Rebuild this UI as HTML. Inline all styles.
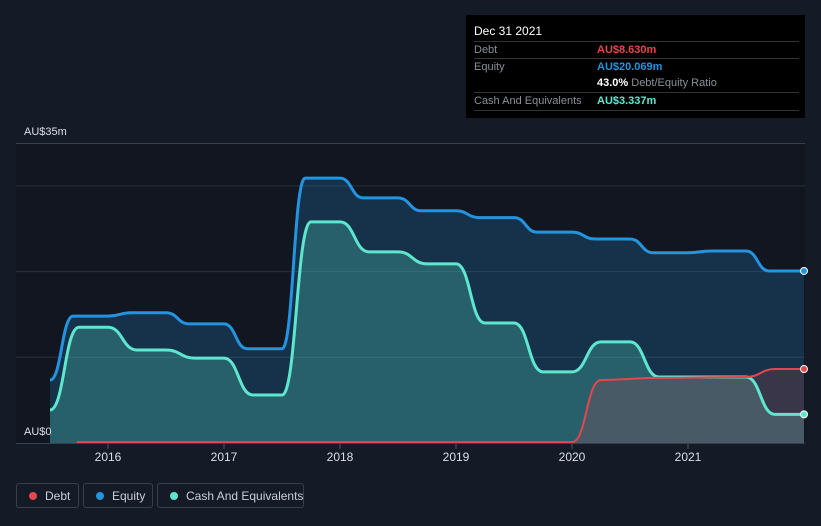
<!DOCTYPE html>
<html><head><meta charset="utf-8"><style>
body{margin:0;background:#151b26;width:821px;height:526px;overflow:hidden;font-family:"Liberation Sans",sans-serif}
svg{position:absolute;left:0;top:0}
.tip{position:absolute;left:466px;top:15px;width:339px;height:103px;background:#000;color:#fff;font-size:11px}
.row{position:absolute;left:8px;width:325px;border-top:1px solid #333;height:17px}
.lbl{position:absolute;left:0;top:2px;color:#8a8f98}
.val{position:absolute;left:123px;top:2px;font-weight:bold;white-space:nowrap}
.leg{position:absolute;top:483px;height:25px;border:1px solid #3a404a;border-radius:3px;color:#ccd;font-size:12px;box-sizing:border-box;white-space:nowrap}
.leg i{position:absolute;left:12px;top:8px;width:8px;height:8px;border-radius:50%}
.leg span{position:absolute;left:28px;top:5px}
</style></head><body>
<svg width="821" height="526">
<rect x="16" y="143" width="789" height="300" fill="#111620"/>
<g id="grid"></g><g id="areas"></g><g id="lines"></g><g id="axis"></g>
</svg>
<div class="tip">
<div style="position:absolute;left:8px;top:9px;font-size:12px">Dec 31 2021</div>
<div class="row" style="top:26px"><span class="lbl">Debt</span><span class="val" style="color:#e5474d">AU$8.630m</span></div>
<div class="row" style="top:43px"><span class="lbl">Equity</span><span class="val" style="color:#2394df">AU$20.069m</span></div>
<div class="row" style="top:60px;border-top:none"><span class="val" style="color:#fff">43.0% <span style="color:#8a8f98;font-weight:normal">Debt/Equity Ratio</span></span></div>
<div class="row" style="top:77px;border-bottom:1px solid #333"><span class="lbl">Cash And Equivalents</span><span class="val" style="color:#5ee6cf">AU$3.337m</span></div>
</div>
<div class="leg" style="left:16px;width:63px"><i style="background:#e5474d"></i><span>Debt</span></div>
<div class="leg" style="left:83px;width:70px"><i style="background:#2394df"></i><span>Equity</span></div>
<div class="leg" style="left:157px;width:147px"><i style="background:#5ee6cf"></i><span>Cash And Equivalents</span></div>
<script>
const eqT=[2015.5,2015.7,2016.0,2016.2,2016.5,2016.7,2017.0,2017.2,2017.5,2017.7,2018.0,2018.2,2018.5,2018.7,2019.0,2019.2,2019.5,2019.7,2020.0,2020.2,2020.5,2020.7,2021.0,2021.2,2021.5,2021.7,2022.0];
const eqV=[7.35,14.8,14.8,15.2,15.2,13.9,13.9,11.0,11.0,30.9,30.9,28.6,28.6,27.1,27.1,26.3,26.3,24.6,24.6,23.8,23.8,22.2,22.2,22.4,22.4,20.07,20.07];
const caT=[2015.5,2015.75,2016.0,2016.25,2016.5,2016.75,2017.0,2017.25,2017.5,2017.75,2018.0,2018.25,2018.5,2018.75,2019.0,2019.25,2019.5,2019.75,2020.0,2020.25,2020.5,2020.75,2021.0,2021.5,2021.75,2022.0];
const caV=[3.85,13.5,13.5,10.85,10.85,9.9,9.9,5.6,5.6,25.8,25.8,22.3,22.3,20.9,20.9,14.0,14.0,8.3,8.3,11.8,11.8,7.7,7.7,7.7,3.34,3.34];
const deT=[2015.73,2020.0,2020.25,2020.75,2021.5,2021.75,2022.0];
const deV=[0.1,0.1,7.35,7.6,7.7,8.63,8.63];
const yTicks=[10,20,30];
const xTicks=[2016,2017,2018,2019,2020,2021];
const X=t=>108+(t-2016)*116, Y=v=>443-v*300/35;
const NS="http://www.w3.org/2000/svg";
function mk(tag,attrs,parent){const e=document.createElementNS(NS,tag);for(const k in attrs)e.setAttribute(k,attrs[k]);document.getElementById(parent).appendChild(e);return e;}
function path(T,V){let d=`M${X(T[0])},${Y(V[0])}`;for(let i=1;i<T.length;i++){const x0=X(T[i-1]),x1=X(T[i]),m=(x0+x1)/2;d+=` C${m},${Y(V[i-1])} ${m},${Y(V[i])} ${x1},${Y(V[i])}`;}return d;}
yTicks.forEach(v=>{const l=mk('line',{x1:16,x2:805,y1:Y(v),y2:Y(v),stroke:'#2a303a','stroke-width':1},'grid');

});
const topLine=mk('line',{x1:16,x2:805,y1:143.5,y2:143.5,stroke:'#3a404a'},'grid');


const series=[[eqT,eqV,'#2394df','rgba(35,148,223,0.22)','equity'],[caT,caV,'#5ee6cf','rgba(94,230,207,0.25)','cash'],[deT,deV,'#e5474d','rgba(229,71,77,0.18)','debt']];
series.forEach(([T,V,c,f,n])=>{const d=path(T,V);
const a=mk('path',{d:d+` L${X(T[T.length-1])},443 L${X(T[0])},443 Z`,fill:f},'areas');


const l=mk('path',{d:d,fill:'none',stroke:c,'stroke-width':n=='debt'?2:3},'lines');


const p=mk('circle',{cx:X(T[T.length-1]),cy:Y(V[V.length-1]),r:3.5,fill:c,stroke:'#fff','stroke-width':1},'lines');

});
const ax=mk('line',{x1:16,x2:805,y1:443.5,y2:443.5,stroke:'#3a404a'},'axis');


xTicks.forEach(t=>{const k=mk('line',{x1:X(t),x2:X(t),y1:444,y2:449,stroke:'#555'},'axis');


const tx=mk('text',{x:X(t),y:461,fill:'#dde','font-size':12,'text-anchor':'middle','font-family':'Liberation Sans'},'axis');tx.textContent=t;

});
[['AU$35m',135],['AU$0',435]].forEach(([s,y])=>{const tx=mk('text',{x:24,y:y,fill:'#dde','font-size':11,'font-family':'Liberation Sans'},'axis');tx.textContent=s;

});
</script>
</body></html>
